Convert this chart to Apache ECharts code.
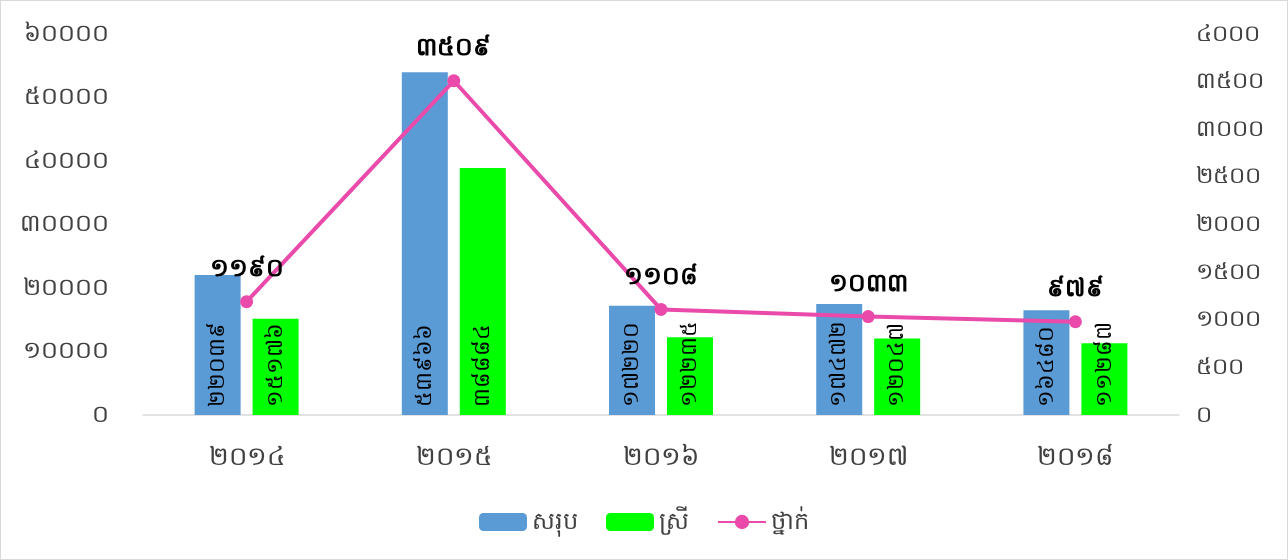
<!DOCTYPE html>
<html><head><meta charset="utf-8">
<script src="https://cdn.jsdelivr.net/npm/echarts@6/dist/echarts.min.js"></script>
<style>html,body{margin:0;padding:0;background:#fff}#c{width:1286px;height:558px;border:1px solid #d9d9d9}</style>
</head><body><div id="c"></div>
<script>
const categories = ['២០១៤','២០១៥','២០១៦','២០១៧','២០១៨'];
const totalValues = [22039, 53966, 17220, 17472, 16480];
const femaleValues = [15176, 38884, 12235, 12047, 11287];
const classValues = [1190, 3509, 1108, 1033, 979];
const seriesNames = ['សរុប','ស្រី','ថ្នាក់'];
const khmerDigits = ['០','១','២','៣','៤','៥','៦','៧','៨','៩'];
const toKhmer = v => String(v).replace(/[0-9]/g, d => khmerDigits[+d]);
const font = "'Noto Sans', 'DejaVu Sans', sans-serif";
const chart = echarts.init(document.getElementById('c'));
const barLabel = {show:true, position:'insideBottom', rotate:90, align:'left', verticalAlign:'middle', distance:8, color:'#000', fontSize:22, fontFamily:font, formatter:p=>toKhmer(p.value)};
chart.setOption({
  animation:false,
  textStyle:{fontFamily:font},
  grid:{left:142, right:108, top:33, bottom:144},
  legend:{bottom:20, left:'center', itemWidth:48, itemHeight:18, itemGap:28, textStyle:{fontSize:24, color:'#404040', fontFamily:font}, data:seriesNames},
  xAxis:{type:'category', data:categories, axisTick:{show:false}, axisLine:{lineStyle:{color:'#d9d9d9', width:1.5}}, axisLabel:{fontSize:26, color:'#404040', margin:30, fontFamily:font}},
  yAxis:[
    {type:'value', min:0, max:60000, interval:10000, splitLine:{show:false}, axisLine:{show:false}, axisLabel:{fontSize:24, color:'#404040', margin:34, fontFamily:font, formatter:v=>toKhmer(v)}},
    {type:'value', min:0, max:4000, interval:500, splitLine:{show:false}, axisLine:{show:false}, axisLabel:{fontSize:23, color:'#404040', margin:17, fontFamily:font, formatter:v=>toKhmer(v)}}
  ],
  series:[
    {name:seriesNames[0], type:'bar', data:totalValues, barWidth:46, barGap:'26%', itemStyle:{color:'#5B9BD5'}, label:barLabel},
    {name:seriesNames[1], type:'bar', data:femaleValues, barWidth:46, itemStyle:{color:'#00FF00'}, label:barLabel},
    {name:seriesNames[2], type:'line', yAxisIndex:1, data:classValues, symbol:'circle', symbolSize:13, itemStyle:{color:'#EA4AAA'}, lineStyle:{color:'#EA4AAA', width:4},
     label:{show:true, position:'top', distance:14, color:'#000', fontWeight:'bold', fontSize:25, fontFamily:font, formatter:p=>toKhmer(p.value)}, z:5}
  ]
});
</script></body></html>
